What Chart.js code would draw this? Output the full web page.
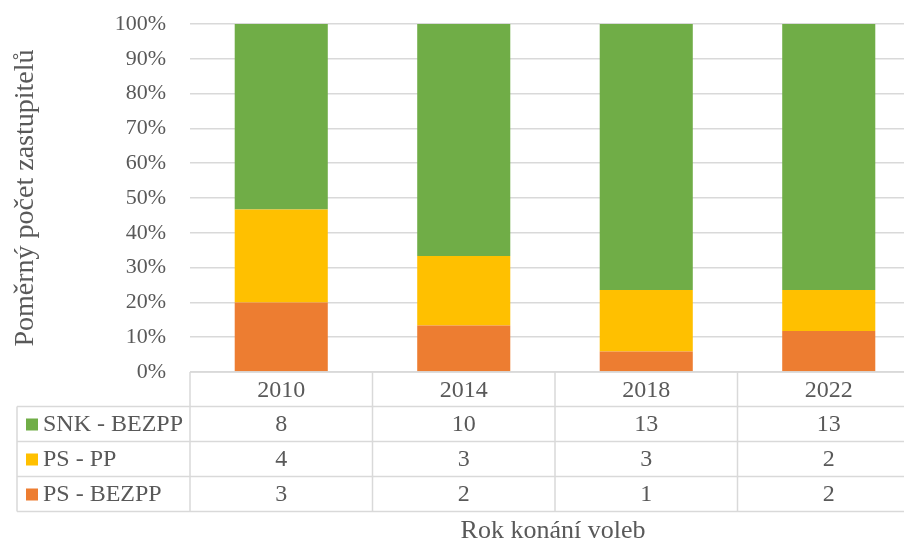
<!DOCTYPE html>
<html>
<head>
    <title>Poměrný počet zastupitelů</title>
    <script src="https://cdn.jsdelivr.net/npm/chart.js"></script>
    <style>
        body { margin: 0; overflow: hidden; background: #fff; }
    </style>
</head>
<body>
    <canvas id="myChart" width="920" height="541"></canvas>
    <script>
        // Data
        const years = ['2010', '2014', '2018', '2022'];
        const snkBezpp = [8, 10, 13, 13];
        const psPp = [4, 3, 3, 2];
        const psBezpp = [3, 2, 1, 2];
        const yTicks = [0, 10, 20, 30, 40, 50, 60, 70, 80, 90, 100];

        const totals = years.map((y, i) => snkBezpp[i] + psPp[i] + psBezpp[i]);
        const pct = arr => arr.map((v, i) => v / totals[i] * 100);

        const font = 'Liberation Serif';
        const textColor = '#595959';
        const lineColor = '#d9d9d9';

        // rows of the table, top to bottom
        const tableRows = [
            { label: 'SNK - BEZPP', values: snkBezpp, color: '#70AD47' },
            { label: 'PS - PP', values: psPp, color: '#FFC000' },
            { label: 'PS - BEZPP', values: psBezpp, color: '#ED7D31' }
        ];

        const dataTable = {
            id: 'dataTable',
            afterDraw(chart) {
                const ctx = chart.ctx;
                const area = chart.chartArea;
                const x = chart.scales.x;
                const step = (area.right - area.left) / years.length;
                const top = area.bottom;
                const headH = 34.5;
                const rowH = 35;
                const left = 17;
                const bottom = top + headH + rowH * tableRows.length;

                ctx.save();
                ctx.strokeStyle = lineColor;
                ctx.lineWidth = 1.5;
                ctx.beginPath();
                // header top line
                ctx.moveTo(area.left, top);
                ctx.lineTo(area.right, top);
                // row lines
                for (let r = 0; r <= tableRows.length; r++) {
                    const yy = top + headH + rowH * r;
                    ctx.moveTo(left, yy);
                    ctx.lineTo(area.right, yy);
                }
                // vertical lines
                ctx.moveTo(left, top + headH);
                ctx.lineTo(left, bottom);
                for (let c = 0; c <= years.length; c++) {
                    const xx = area.left + step * c;
                    ctx.moveTo(xx, top);
                    ctx.lineTo(xx, bottom);
                }
                ctx.stroke();

                ctx.fillStyle = textColor;
                ctx.font = '24px "' + font + '"';
                ctx.textAlign = 'center';
                ctx.textBaseline = 'middle';
                years.forEach((yr, i) => {
                    const cx = x.getPixelForValue(i);
                    ctx.fillText(yr, cx, top + headH / 2 + 1);
                });
                tableRows.forEach((row, r) => {
                    const cy = top + headH + rowH * r + rowH / 2 + 1;
                    row.values.forEach((v, i) => {
                        ctx.fillText(String(v), x.getPixelForValue(i), cy);
                    });
                    ctx.fillStyle = row.color;
                    ctx.fillRect(26, cy - 6.5, 12, 12);
                    ctx.fillStyle = textColor;
                    ctx.textAlign = 'left';
                    ctx.fillText(row.label, 43, cy);
                    ctx.textAlign = 'center';
                });

                // x axis title
                ctx.font = '26px "' + font + '"';
                ctx.fillText('Rok konání voleb', 553, 531);
                ctx.restore();
            }
        };

        const ctx = document.getElementById('myChart').getContext('2d');
        new Chart(ctx, {
            type: 'bar',
            data: {
                labels: years,
                datasets: [
                    { label: 'PS - BEZPP', data: pct(psBezpp), backgroundColor: '#ED7D31' },
                    { label: 'PS - PP', data: pct(psPp), backgroundColor: '#FFC000' },
                    { label: 'SNK - BEZPP', data: pct(snkBezpp), backgroundColor: '#70AD47' }
                ]
            },
            options: {
                responsive: false,
                animation: false,
                layout: { padding: { top: 24, bottom: 169, left: 0, right: 0 } },
                datasets: {
                    bar: { categoryPercentage: 1, barPercentage: 0.51 }
                },
                plugins: {
                    legend: { display: false },
                    tooltip: { enabled: false }
                },
                scales: {
                    x: {
                        stacked: true,
                        display: false
                    },
                    y: {
                        stacked: true,
                        min: 0,
                        max: 100,
                        afterBuildTicks: scale => {
                            scale.ticks = yTicks.map(v => ({ value: v }));
                        },
                        afterFit: scale => {
                            scale.width = 190;
                            scale.paddingTop = 0;
                            scale.paddingBottom = 0;
                        },
                        border: { display: false },
                        grid: { color: lineColor, lineWidth: 1.5, drawTicks: false },
                        ticks: {
                            padding: 24,
                            color: textColor,
                            font: { family: font, size: 22 },
                            callback: v => v + '%'
                        },
                        title: {
                            display: true,
                            text: 'Poměrný počet zastupitelů',
                            color: textColor,
                            font: { family: font, size: 28 },
                            padding: { top: 9, bottom: 0 }
                        }
                    }
                }
            },
            plugins: [dataTable]
        });
    </script>
</body>
</html>
